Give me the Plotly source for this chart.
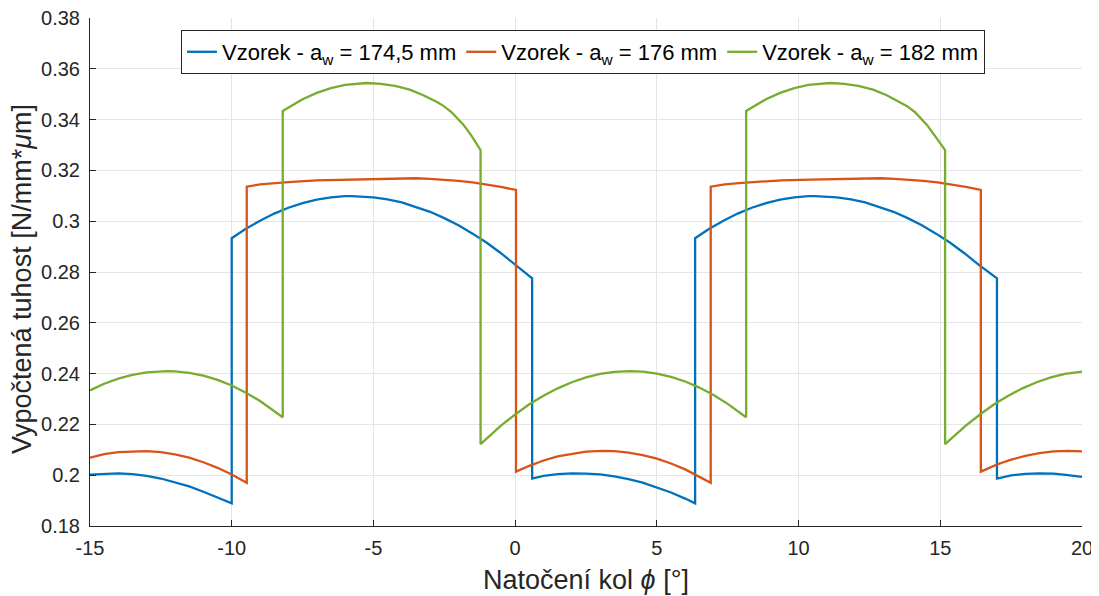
import plotly.graph_objects as go

# Series data (vertical jumps = repeated x)
x_blue = [-15, -14.5, -14.0, -13.5, -13.0, -12.5, -12.0, -11.5, -11.0, -10.5, -10.0,
          -10.0, -9.5, -9.0, -8.5, -8.0, -7.5, -7.0, -6.5, -6.0, -5.77, -5.0, -4.5, -4.0, -3.5, -3.0, -2.5, -2.0, -1.5, -1.0, -0.5, 0.0, 0.6,
          0.6, 1.0, 1.5, 2.0, 2.5, 3.0, 3.5, 4.0, 4.5, 5.0, 5.5, 6.0, 6.35,
          6.35, 6.85, 7.35, 7.85, 8.35, 8.85, 9.35, 9.85, 10.35, 10.58, 11.35, 11.85, 12.35, 12.85, 13.35, 13.85, 14.35, 14.85, 15.35, 15.85, 16.35, 17.0,
          17.0, 17.5, 18.0, 18.5, 19.0, 19.5, 20.0]
y_blue = [0.2002, 0.2006, 0.2007, 0.2004, 0.1997, 0.1987, 0.1973, 0.1956, 0.1935, 0.1911, 0.1889,
          0.2933, 0.2970, 0.3002, 0.3030, 0.3053, 0.3071, 0.3085, 0.3094, 0.3099, 0.3099, 0.3094, 0.3086, 0.3074, 0.3057, 0.3037, 0.3012, 0.2984, 0.2951, 0.2915, 0.2874, 0.2829, 0.2775,
          0.1987, 0.1997, 0.2004, 0.2007, 0.2006, 0.2003, 0.1995, 0.1985, 0.1971, 0.1953, 0.1932, 0.1908, 0.1889,
          0.2933, 0.2970, 0.3002, 0.3030, 0.3053, 0.3071, 0.3085, 0.3094, 0.3099, 0.3099, 0.3094, 0.3086, 0.3074, 0.3057, 0.3037, 0.3012, 0.2984, 0.2951, 0.2915, 0.2874, 0.2829, 0.2775,
          0.1987, 0.1999, 0.2005, 0.2007, 0.2006, 0.2000, 0.1993]

x_orange = [-15, -14.5, -14.0, -13.27, -13.0, -12.5, -12.0, -11.5, -11.0, -10.5, -10.0, -9.47,
            -9.47, -9.0, -8.5, -8.0, -7.0, -6.0, -5.0, -4.0, -3.5, -3.0, -2.5, -2.0, -1.5, -1.0, -0.5, 0.03,
            0.03, 0.5, 1.0, 1.5, 2.0, 2.5, 3.1, 3.5, 4.0, 4.5, 5.0, 5.5, 6.0, 6.5, 6.9,
            6.9, 7.4, 7.9, 8.4, 9.4, 10.4, 11.4, 12.4, 12.9, 13.4, 13.9, 14.4, 14.9, 15.4, 15.9, 16.43,
            16.43, 17.0, 17.5, 18.0, 18.5, 19.0, 19.5, 20.0]
y_orange = [0.2069, 0.2083, 0.2091, 0.2096, 0.2095, 0.2091, 0.2082, 0.2069, 0.2051, 0.2029, 0.2003, 0.1970,
            0.3136, 0.3145, 0.3150, 0.3154, 0.3161, 0.3164, 0.3167, 0.3169, 0.3169, 0.3167, 0.3164, 0.3159, 0.3153, 0.3145, 0.3135, 0.3123,
            0.2014, 0.2037, 0.2058, 0.2074, 0.2085, 0.2093, 0.2096, 0.2095, 0.2089, 0.2079, 0.2065, 0.2046, 0.2023, 0.1995, 0.1970,
            0.3136, 0.3145, 0.3150, 0.3154, 0.3161, 0.3164, 0.3167, 0.3169, 0.3169, 0.3167, 0.3164, 0.3159, 0.3153, 0.3145, 0.3135, 0.3123,
            0.2014, 0.2042, 0.2061, 0.2076, 0.2087, 0.2094, 0.2096, 0.2094]

x_green = [-15, -14.5, -14.0, -13.5, -13.0, -12.3, -12.0, -11.5, -11.0, -10.5, -10.0, -9.5, -9.0, -8.5, -8.2,
           -8.2, -7.5, -7.0, -6.5, -6.0, -5.24, -4.74, -4.24, -3.72, -3.24, -2.74, -2.52, -2.24, -1.82, -1.52, -1.22,
           -1.22, -0.5, 0.0, 0.5, 1.0, 1.5, 2.0, 2.5, 3.0, 3.5, 4.05, 4.5, 5.0, 5.5, 6.0, 6.5, 7.0, 7.5, 8.15,
           8.15, 8.85, 9.35, 9.85, 10.35, 11.11, 11.61, 12.11, 12.63, 13.11, 13.61, 13.83, 14.11, 14.53, 14.83, 15.17,
           15.17, 15.9, 16.4, 16.9, 17.4, 17.9, 18.4, 18.9, 19.4, 20.0]
y_green = [0.2334, 0.2360, 0.2380, 0.2395, 0.2405, 0.2410, 0.2409, 0.2403, 0.2392, 0.2375, 0.2353, 0.2325, 0.2292, 0.2254, 0.2228,
           0.3434, 0.3480, 0.3505, 0.3524, 0.3537, 0.3544, 0.3541, 0.3533, 0.3518, 0.3496, 0.3468, 0.3453, 0.3429, 0.3379, 0.3333, 0.3280,
           0.2122, 0.2195, 0.2239, 0.2279, 0.2313, 0.2342, 0.2366, 0.2385, 0.2399, 0.2407, 0.2410, 0.2408, 0.2400, 0.2387, 0.2369, 0.2345, 0.2316, 0.2281, 0.2228,
           0.3434, 0.3480, 0.3505, 0.3524, 0.3537, 0.3544, 0.3541, 0.3533, 0.3518, 0.3496, 0.3468, 0.3453, 0.3429, 0.3379, 0.3333, 0.3280,
           0.2122, 0.2195, 0.2239, 0.2279, 0.2313, 0.2342, 0.2366, 0.2385, 0.2399, 0.2408]

names = ["Vzorek - a<sub>w</sub> = 174,5 mm", "Vzorek - a<sub>w</sub> = 176 mm", "Vzorek - a<sub>w</sub> = 182 mm"]
colors = ["#0072BD", "#D95319", "#77AC30"]

y_ticks = [0.18, 0.2, 0.22, 0.24, 0.26, 0.28, 0.3, 0.32, 0.34, 0.36, 0.38]
y_ticktext = ["0.18", "0.2", "0.22", "0.24", "0.26", "0.28", "0.3", "0.32", "0.34", "0.36", "0.38"]
x_ticks = [-15, -10, -5, 0, 5, 10, 15, 20]
x_ticktext = ["-15", "-10", "-5", "0", "5", "10", "15", "20"]

x_title = "Natočení kol <i>ϕ</i> [°]"
y_title = "Vypočtená tuhost [N/mm*<i>μ</i>m]"

fig = go.Figure()
for xs, ys, nm, c in [(x_blue, y_blue, names[0], colors[0]),
                      (x_orange, y_orange, names[1], colors[1]),
                      (x_green, y_green, names[2], colors[2])]:
    fig.add_trace(go.Scatter(x=xs, y=ys, mode="lines", name=nm,
                             line=dict(color=c, width=2.3)))

font_family = "Liberation Sans, Arial, sans-serif"
# page body has an 8px default margin; figure is offset by it
fig.update_layout(
    width=1091, height=588,
    paper_bgcolor="white", plot_bgcolor="white",
    margin=dict(l=82, r=17, t=10, b=70),
    font=dict(family=font_family, color="#262626", size=20),
    showlegend=True,
    legend=dict(orientation="h", x=0.0917, y=0.9764, xanchor="left", yanchor="top",
                bordercolor="#262626", borderwidth=1, bgcolor="white",
                font=dict(size=22, color="#000000"), itemwidth=30, tracegroupgap=0),
    xaxis=dict(range=[-15, 20], tickvals=x_ticks, ticktext=x_ticktext, ticks="inside", ticklen=6,
               tickcolor="#262626", showline=True, linecolor="#262626", linewidth=1,
               showgrid=True, gridcolor="#e5e5e5", gridwidth=1, zeroline=False, automargin=False,
               ticklabelstandoff=4, ticklabeloverflow="allow",
               tickfont=dict(size=20, color="#262626")),
    yaxis=dict(range=[0.18, 0.38], tickvals=y_ticks, ticktext=y_ticktext, ticks="inside", ticklen=6,
               tickcolor="#262626", showline=True, linecolor="#262626", linewidth=1,
               showgrid=True, gridcolor="#e5e5e5", gridwidth=1, zeroline=False, automargin=False,
               ticklabelstandoff=5, ticklabeloverflow="allow",
               tickfont=dict(size=20, color="#262626")),
    annotations=[
        dict(text=x_title, xref="paper", yref="paper", x=0.5, y=0, xanchor="center", yanchor="middle",
             yshift=-54, showarrow=False, font=dict(size=27, color="#262626")),
        dict(text=y_title, xref="paper", yref="paper", x=0, y=0.5, xanchor="center", yanchor="middle",
             xshift=-68, yshift=-7, textangle=-90, showarrow=False, font=dict(size=27, color="#262626")),
    ],
)

fig.write_html("out.html")
